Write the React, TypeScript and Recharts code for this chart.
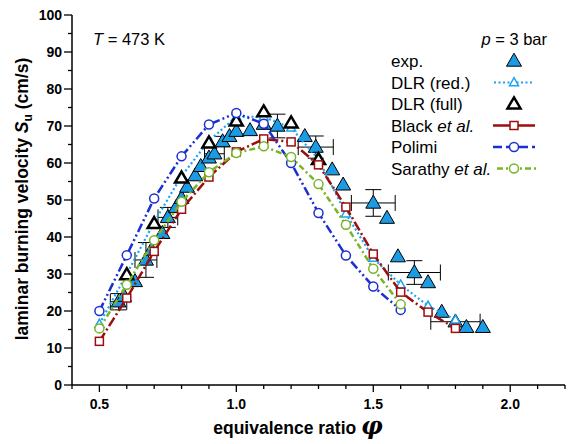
import React from 'react';
import {
  ScatterChart,
  Scatter,
  XAxis,
  YAxis,
  ErrorBar,
} from 'recharts';

// measurements (exp.)
const expPhi = [0.57, 0.59, 0.63, 0.67, 0.69, 0.73, 0.75, 0.78, 0.8, 0.82, 0.85, 0.87, 0.9, 0.92, 0.95, 0.975, 1.0, 1.05, 1.1, 1.15, 1.25, 1.29, 1.35, 1.39, 1.5, 1.55, 1.59, 1.65, 1.7, 1.75, 1.8, 1.84, 1.9];
const expSu = [22.5, 24.0, 28.0, 33.8, 36.5, 41.0, 45.3, 48.0, 50.5, 53.5, 56.6, 59.1, 61.4, 62.5, 65.8, 67.2, 68.6, 68.8, 70.5, 70.0, 67.2, 64.3, 58.2, 54.1, 49.2, 45.1, 34.7, 30.4, 27.7, 19.7, 17.1, 15.6, 15.6];
const expErrPhi = [0.03, null, null, 0.04, null, null, 0.036, null, null, null, null, null, null, 0.036, null, null, null, null, null, null, null, 0.064, null, null, 0.08, null, null, 0.095, null, null, 0.09, null, null];
const expErrSu = [2.2, null, null, 4.7, null, null, 2.7, null, null, null, null, null, null, null, 1.4, null, null, null, null, 3.2, null, 3.0, null, null, 3.6, null, null, 3.2, null, null, null, null, null];

// mechanisms
const dlrRedPhi = [0.5, 0.6, 0.7, 0.8, 0.9, 1.0, 1.1, 1.2, 1.3, 1.4, 1.5, 1.6, 1.7, 1.8];
const dlrRedSu = [16.5, 30.0, 44.0, 56.5, 66.0, 72.5, 72.5, 69.5, 61.0, 46.3, 34.3, 27.1, 21.4, 17.6];

const dlrFullPhi = [0.6, 0.7, 0.8, 0.9, 1.0, 1.1, 1.2, 1.3];
const dlrFullSu = [29.8, 43.6, 55.9, 65.4, 71.3, 73.8, 70.8, 60.9];

const blackPhi = [0.5, 0.6, 0.7, 0.8, 0.9, 1.0, 1.1, 1.2, 1.3, 1.4, 1.5, 1.6, 1.7, 1.8];
const blackSu = [11.8, 23.5, 36.1, 47.5, 56.2, 63.0, 66.5, 65.7, 59.5, 48.1, 35.4, 25.1, 19.7, 15.3];

const polimiPhi = [0.5, 0.6, 0.7, 0.8, 0.9, 1.0, 1.1, 1.2, 1.3, 1.4, 1.5, 1.6];
const polimiSu = [20.0, 35.1, 50.4, 61.8, 70.4, 73.5, 70.6, 60.0, 46.5, 35.0, 26.6, 20.3];

const sarathyPhi = [0.5, 0.6, 0.7, 0.8, 0.9, 1.0, 1.1, 1.2, 1.3, 1.4, 1.5, 1.6];
const sarathySu = [15.3, 27.1, 39.1, 49.5, 57.5, 62.7, 64.5, 61.6, 54.3, 43.3, 31.4, 21.8];

const xTicks = [0.4, 0.5, 0.6, 0.7, 0.8, 0.9, 1.0, 1.1, 1.2, 1.3, 1.4, 1.5, 1.6, 1.7, 1.8, 1.9, 2.0, 2.1, 2.2];
const yTicks = [0, 5, 10, 15, 20, 25, 30, 35, 40, 45, 50, 55, 60, 65, 70, 75, 80, 85, 90, 95, 100];

const FONT = '"Liberation Sans", Arial, sans-serif';
const C_EXP = '#1b9be3';
const C_DLR = '#1aa3f0';
const C_BLACK = '#9c0d0d';
const C_POLIMI = '#1a2fd0';
const C_SARATHY = '#79b42a';

const toPoints = (phi: number[], su: number[]) => phi.map((x, i) => ({ x, y: su[i] }));

const expData = expPhi.map((x, i) => ({
  x,
  y: expSu[i],
  ex: expErrPhi[i] ?? undefined,
  ey: expErrSu[i] ?? undefined,
}));

const isMajorX = (v: number) => Math.abs(v * 2 - Math.round(v * 2)) < 1e-6;

const tri = (cx: number, cy: number, w: number, h: number) =>
  `M${cx},${cy - h * 0.6} L${cx + w / 2},${cy + h * 0.4} L${cx - w / 2},${cy + h * 0.4} Z`;

const ExpMark = ({ cx, cy }: any) => (
  <path d={tri(cx, cy, 15, 13)} fill={C_EXP} stroke="#000" strokeWidth={1} />
);
const DlrRedMark = ({ cx, cy }: any) => (
  <path d={tri(cx, cy, 9, 8)} fill="#fff" stroke={C_DLR} strokeWidth={1.5} />
);
const DlrFullMark = ({ cx, cy }: any) => (
  <path d={tri(cx, cy, 13, 11)} fill="#fff" stroke="#000" strokeWidth={2.5} strokeLinejoin="miter" />
);
const SquareMark = ({ cx, cy }: any) => (
  <rect x={cx - 4} y={cy - 4} width={8} height={8} fill="#fff" stroke={C_BLACK} strokeWidth={1.5} />
);
const circleMark = (color: string) => ({ cx, cy }: any) => (
  <circle cx={cx} cy={cy} r={4.5} fill="#fff" stroke={color} strokeWidth={1.5} />
);
const PolimiMark = circleMark(C_POLIMI);
const SarathyMark = circleMark(C_SARATHY);

const BottomTick = ({ x, y, payload }: any) => {
  const major = isMajorX(payload.value);
  return (
    <g>
      <line x1={x} y1={y} x2={x} y2={y + (major ? 7 : 4)} stroke="#000" strokeWidth={1.3} />
      {major && (
        <text x={x} y={y + 24} textAnchor="middle" fontSize={14} fontWeight="bold" fontFamily={FONT} fill="#000">
          {payload.value.toFixed(1)}
        </text>
      )}
    </g>
  );
};
const TopTick = ({ x, y, payload }: any) => {
  const major = isMajorX(payload.value);
  return <line x1={x} y1={y} x2={x} y2={y + (major ? 6 : 3)} stroke="#000" strokeWidth={1.3} />;
};
const LeftTick = ({ x, y, payload }: any) => {
  const major = payload.value % 10 === 0;
  return (
    <g>
      <line x1={x} y1={y} x2={x - (major ? 8 : 4)} y2={y} stroke="#000" strokeWidth={1.3} />
      {major && (
        <text x={x - 10} y={y + 5} textAnchor="end" fontSize={14} fontWeight="bold" fontFamily={FONT} fill="#000">
          {payload.value}
        </text>
      )}
    </g>
  );
};
const RightTick = ({ x, y, payload }: any) => {
  const major = payload.value % 10 === 0;
  return <line x1={x} y1={y} x2={x - (major ? 6 : 3)} y2={y} stroke="#000" strokeWidth={1.3} />;
};

const axisLine = { stroke: '#000', strokeWidth: 1.5 };

const legendRows = [
  { label: 'exp.', y: 61 },
  { label: 'DLR (red.)', y: 82.5 },
  { label: 'DLR (full)', y: 104 },
  { label: 'Black', italic: 'et al.', y: 125.5 },
  { label: 'Polimi', y: 147 },
  { label: 'Sarathy', italic: 'et al.', y: 168.5 },
];

const Overlay = () => {
  const lx = 514;
  const r = legendRows;
  return (
    <svg width={571} height={444} style={{ position: 'absolute', left: 0, top: 0, pointerEvents: 'none' }}>
      <g fontFamily={FONT} fill="#000">
        <text x={93} y={45} fontSize={16.5}>
          <tspan fontStyle="italic">T</tspan> = 473 K
        </text>
        <text x={547} y={45} fontSize={16.5} textAnchor="end">
          <tspan fontStyle="italic">p</tspan> = 3 bar
        </text>
        {r.map((row) => (
          <text key={row.label} x={391} y={row.y + 6} fontSize={17}>
            {row.label}
            {row.italic && <tspan fontStyle="italic"> {row.italic}</tspan>}
          </text>
        ))}
        <text
          transform="translate(28,199) rotate(-90)"
          textAnchor="middle"
          fontSize={17.5}
          fontWeight="bold"
        >
          laminar burning velocity <tspan fontStyle="italic">S</tspan>
          <tspan fontSize={12} dy={4}>u</tspan>
          <tspan dy={-4}> (cm/s)</tspan>
        </text>
        <text x={298} y={434} textAnchor="middle" fontSize={17.5} fontWeight="bold">
          equivalence ratio{' '}
          <tspan fontFamily='"DejaVu Serif", serif' fontStyle="italic" fontSize={24}>
            φ
          </tspan>
        </text>
      </g>
      {/* legend symbols */}
      <ExpMark cx={lx} cy={r[0].y} />
      <line x1={494} x2={534} y1={r[1].y} y2={r[1].y} stroke={C_DLR} strokeWidth={2.2} strokeDasharray="2 2.5" />
      <DlrRedMark cx={lx} cy={r[1].y} />
      <DlrFullMark cx={lx} cy={r[2].y} />
      <line x1={493} x2={535} y1={r[3].y} y2={r[3].y} stroke={C_BLACK} strokeWidth={2.5} />
      <SquareMark cx={lx} cy={r[3].y} />
      <line x1={493} x2={535} y1={r[4].y} y2={r[4].y} stroke={C_POLIMI} strokeWidth={2.5} strokeDasharray="9 4" />
      <PolimiMark cx={lx} cy={r[4].y} />
      <line x1={497} x2={537} y1={r[5].y} y2={r[5].y} stroke={C_SARATHY} strokeWidth={2.5} strokeDasharray="6 3 2 3" />
      <SarathyMark cx={lx} cy={r[5].y} />
    </svg>
  );
};

export default function App() {
  return (
    <div style={{ position: 'absolute', left: 0, top: 0, width: 571, height: 444, background: '#fff' }}>
      <ScatterChart width={571} height={444} margin={{ top: 15, right: 6, left: 0, bottom: 29 }}>
        <XAxis
          type="number"
          dataKey="x"
          domain={[0.4, 2.2]}
          ticks={xTicks}
          interval={0}
          allowDataOverflow
          height={30}
          tickSize={0}
          tickMargin={0}
          tickLine={false}
          axisLine={axisLine}
          tick={<BottomTick />}
        />
        <XAxis
          xAxisId="top"
          orientation="top"
          type="number"
          dataKey="x"
          domain={[0.4, 2.2]}
          ticks={xTicks}
          interval={0}
          allowDataOverflow
          height={0}
          tickSize={0}
          tickMargin={0}
          tickLine={false}
          axisLine={axisLine}
          tick={<TopTick />}
        />
        <YAxis
          type="number"
          dataKey="y"
          domain={[0, 100]}
          ticks={yTicks}
          interval={0}
          allowDataOverflow
          width={72}
          tickSize={0}
          tickMargin={0}
          tickLine={false}
          axisLine={axisLine}
          tick={<LeftTick />}
        />
        <YAxis
          yAxisId="right"
          orientation="right"
          type="number"
          dataKey="y"
          domain={[0, 100]}
          ticks={yTicks}
          interval={0}
          allowDataOverflow
          width={0}
          tickSize={0}
          tickMargin={0}
          tickLine={false}
          axisLine={axisLine}
          tick={<RightTick />}
        />
        <Scatter data={expData} shape={<ExpMark />} isAnimationActive={false}>
          <ErrorBar dataKey="ey" direction="y" width={8} stroke="#000" strokeWidth={1} />
          <ErrorBar dataKey="ex" direction="x" width={8} stroke="#000" strokeWidth={1} />
        </Scatter>
        <Scatter
          data={toPoints(dlrRedPhi, dlrRedSu)}
          line={{ stroke: C_DLR, strokeWidth: 2.2, strokeDasharray: '2 2.5' }}
          lineType="joint"
          shape={<DlrRedMark />}
          isAnimationActive={false}
        />
        <Scatter data={toPoints(dlrFullPhi, dlrFullSu)} shape={<DlrFullMark />} isAnimationActive={false} />
        <Scatter
          data={toPoints(blackPhi, blackSu)}
          line={{ stroke: C_BLACK, strokeWidth: 2.5, strokeDasharray: '10 3 2 3' }}
          lineType="joint"
          shape={<SquareMark />}
          isAnimationActive={false}
        />
        <Scatter
          data={toPoints(polimiPhi, polimiSu)}
          line={{ stroke: C_POLIMI, strokeWidth: 2.5, strokeDasharray: '9 3 2 3 2 3' }}
          lineType="joint"
          shape={<PolimiMark />}
          isAnimationActive={false}
        />
        <Scatter
          data={toPoints(sarathyPhi, sarathySu)}
          line={{ stroke: C_SARATHY, strokeWidth: 2.5, strokeDasharray: '6 3 2 3' }}
          lineType="joint"
          shape={<SarathyMark />}
          isAnimationActive={false}
        />
      </ScatterChart>
      <Overlay />
    </div>
  );
}
